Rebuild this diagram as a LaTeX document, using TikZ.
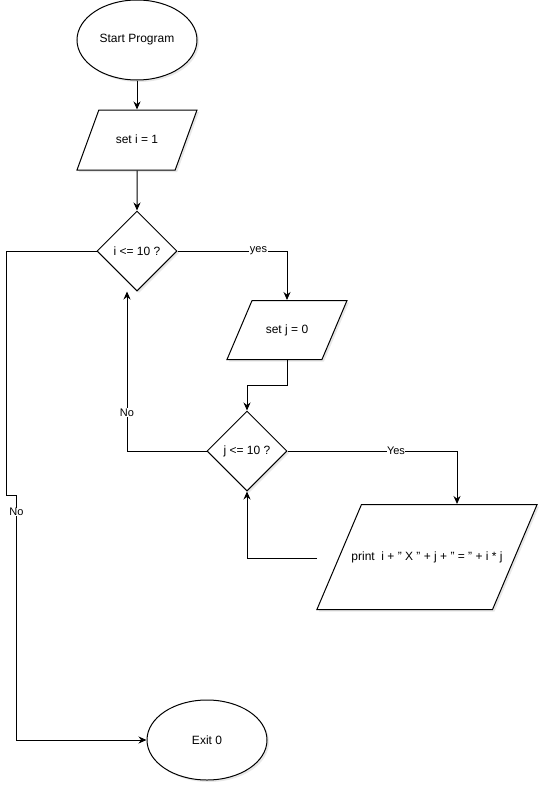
\documentclass[tikz,border=0pt]{standalone}
\usepackage{fontspec}
\setmainfont{Liberation Sans}
\usepackage{tikz}
\usetikzlibrary{shapes.geometric,arrows.meta,shadows}
\tikzset{x=1pt, y=-1pt,
    flow box/.style={draw=black, line width=1pt, fill=white, inner sep=0pt,
          font=\fontsize{12}{14}\selectfont,
          drop shadow={opacity=0.18, shadow xshift=2pt, shadow yshift=-2pt}},
    start stop/.style={flow box, ellipse, minimum width=120pt, minimum height=80pt},
    io box/.style={flow box, trapezium, trapezium stretches body=true,
          text height=9pt, text depth=3pt,
          trapezium left angle=#1, trapezium right angle=180-#1},
    decision box/.style={flow box, diamond, aspect=1, minimum width=80pt, minimum height=80pt},
    flow line/.style={draw=black, line width=1pt, -{Stealth[length=8pt,width=7pt]}},
    branch label/.style={fill=white, inner sep=0.5pt, font=\fontsize{11}{13}\selectfont}
    }
\begin{document}
\begin{tikzpicture}
\useasboundingbox (0,0) rectangle (544,787);
\node (Start) [start stop] at (137,40) {Start Program};
\node (SetI) [io box=70, minimum width=120pt, inner ysep=24pt] at (137,140) {set i = 1};
\node (TestI) [decision box] at (137,251) {i <= 10 ?};
\node (SetJ) [io box=67, minimum width=120pt, inner ysep=23.5pt] at (287,330) {set j = 0};
\node (TestJ) [decision box] at (247,451) {j <= 10 ?};
\node (Print) [io box=67, minimum width=220pt, inner ysep=46.5pt, inner xsep=-10pt] at (427,557)
      {print~ i + " X " + j + " = " + i * j};
\node (Exit) [start stop] at (207,740) {Exit 0};
\coordinate (PrintIn) at (317,558);

\draw[flow line] (Start) -- (SetI);
\draw[flow line] (SetI) -- (TestI);
\draw[flow line] (TestI.east) -| node[branch label, pos=0.37] {yes} (SetJ.north);
\draw[flow line] (SetJ.south) -- ++(0,25) -| (TestJ.north);
\draw[flow line] (TestJ.east) -| node[branch label, pos=0.32] {Yes} ([xshift=30pt]Print.north);
\draw[flow line] (PrintIn) -| (TestJ.south);
\draw[flow line] (TestJ.west) -| node[branch label, pos=0.62] {No} ([xshift=-10pt]TestI.south);
\draw[flow line] (TestI.west) -- ++(-90,0) -- ++(0,244) -- ++(10,0)
      |- node[branch label, pos=0.035] {No} (Exit.west);
\end{tikzpicture}
\end{document}
